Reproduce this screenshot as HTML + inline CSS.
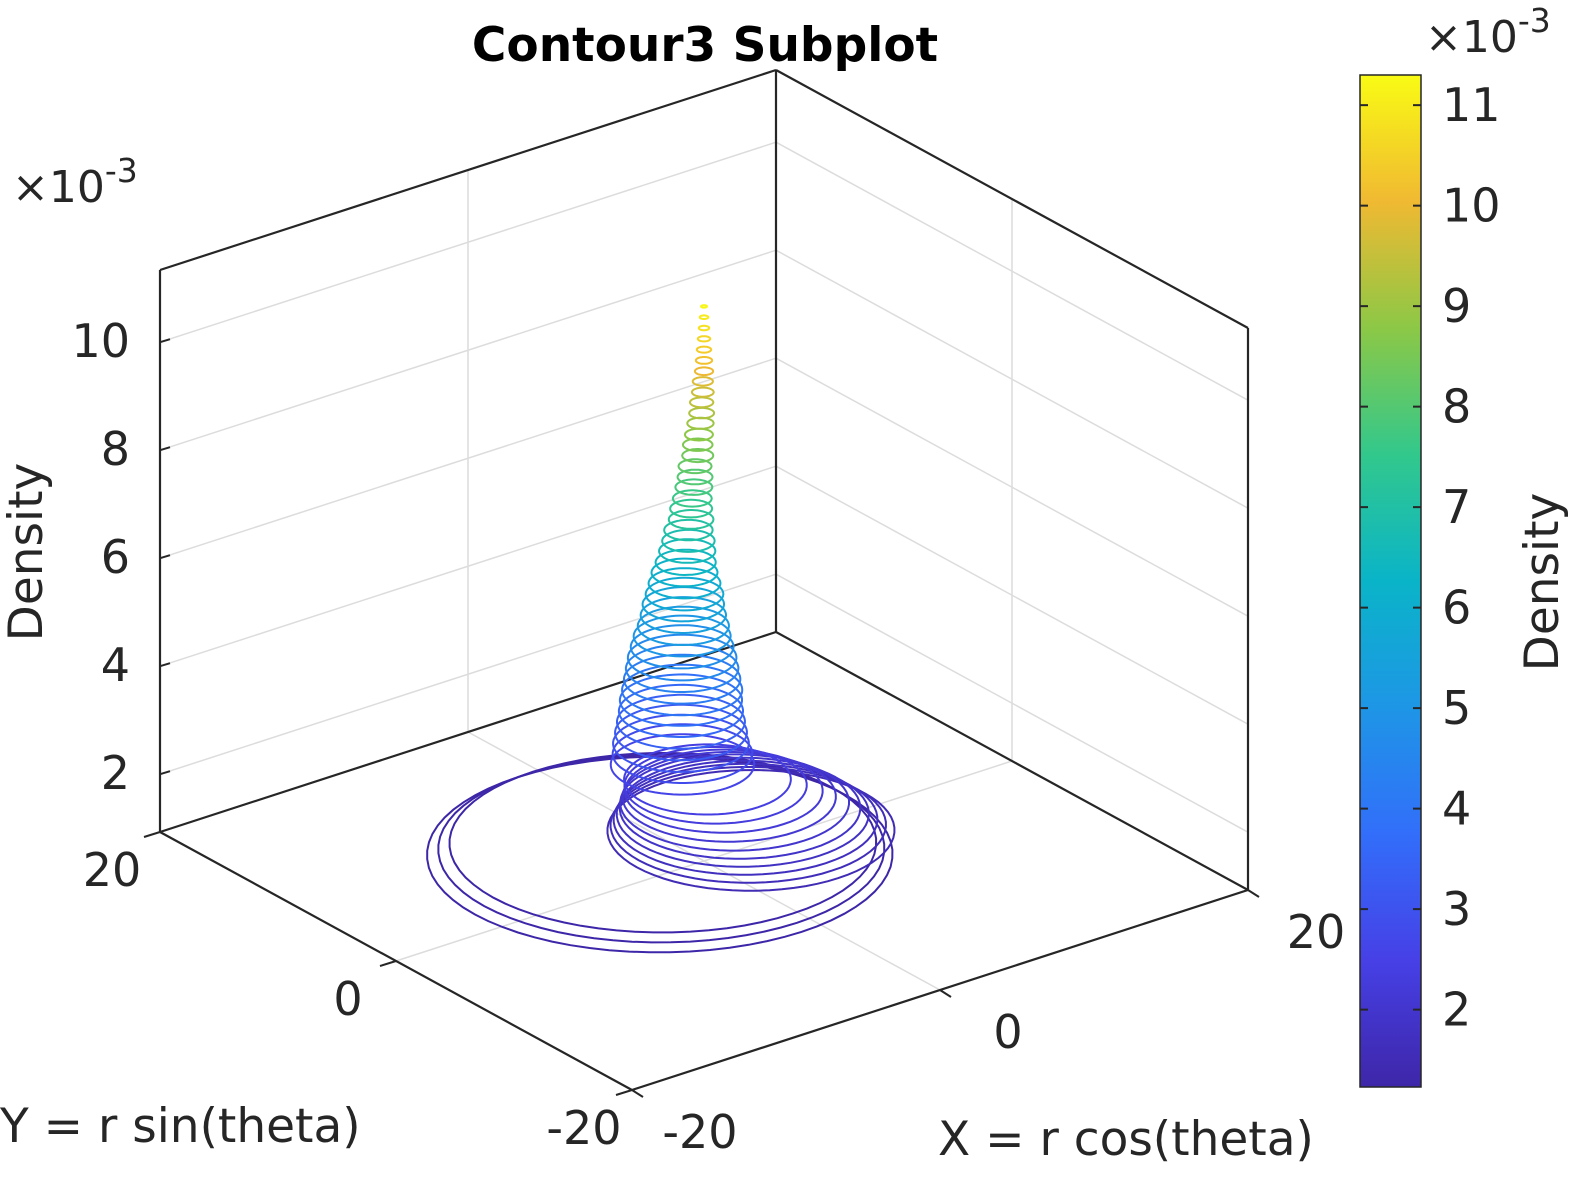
<!DOCTYPE html>
<html><head><meta charset="utf-8">
<style>
html,body{margin:0;padding:0;background:#fff;}
svg{display:block;font-family:"DejaVu Sans","Liberation Sans",sans-serif;}
</style></head>
<body>
<svg id="chart" width="1589" height="1180" viewBox="0 0 1589 1180" xmlns="http://www.w3.org/2000/svg">
<defs>
<linearGradient id="parula" x1="0" y1="1" x2="0" y2="0">
<stop offset="0" stop-color="rgb(62,38,168)"/>
<stop offset="0.125" stop-color="rgb(70,64,230)"/>
<stop offset="0.25" stop-color="rgb(50,110,250)"/>
<stop offset="0.375" stop-color="rgb(30,150,230)"/>
<stop offset="0.5" stop-color="rgb(10,180,200)"/>
<stop offset="0.625" stop-color="rgb(50,200,140)"/>
<stop offset="0.75" stop-color="rgb(140,200,70)"/>
<stop offset="0.875" stop-color="rgb(240,185,50)"/>
<stop offset="1" stop-color="rgb(249,251,20)"/>
</linearGradient>
</defs>
<g id="grid"></g>
<g id="box"></g>
<g id="contours"></g>
<g id="labels"></g>
<text x="705" y="61" font-size="47" font-weight="bold" text-anchor="middle" fill="#000">Contour3 Subplot</text>
<text x="12" y="202" font-size="44" fill="#262626">×10<tspan font-size="33" dy="-20">-3</tspan></text>
<text transform="translate(42,552) rotate(-90)" font-size="47" text-anchor="middle" fill="#262626">Density</text>
<text x="0" y="1142" font-size="47" fill="#262626">Y = r sin(theta)</text>
<text x="938" y="1155" font-size="47" fill="#262626">X = r cos(theta)</text>
<rect x="1360" y="75" width="61" height="1012" fill="url(#parula)" stroke="#262626" stroke-width="1.5"/>
<g id="cbticks"></g>
<text x="1425" y="52" font-size="44" fill="#262626">×10<tspan font-size="33" dy="-20">-3</tspan></text>
<text transform="translate(1558,582) rotate(-90)" font-size="47" text-anchor="middle" fill="#262626">Density</text>
</svg>
<script>
// ---- data ----
const zTicks = [2,4,6,8,10];
const xTicks = [-20,0,20];
const yTicks = [-20,0,20];
const cbTicks = [2,3,4,5,6,7,8,9,10,11];
// floor-level rings (outer spiral + shifted blob)
const floorLevels = [1.05,1.15,1.25,1.5,1.6,1.7,1.8,1.9,2.0,2.1,2.2,2.3,2.4];
const floorRadii  = [12.0,11.5,11.0,7.4,7.1,6.8,6.5,6.2,5.9,5.5,5.1,4.7,4.3];
const floorCX     = [-1.8,-1.7,-1.6,1.9,1.8,1.7,1.6,1.5,1.3,1.1,0.9,0.6,0.3];
const floorCY     = [1.4,1.4,1.4,-1.5,-1.4,-1.3,-1.2,-1.1,-0.9,-0.7,-0.5,-0.2,0.1];
// cone rings
const coneLevels = [2.6,2.8,3.0,3.2,3.4,3.6,3.8,4.0,4.2,4.4,4.6,4.8,5.0,5.2,5.4,5.6,5.8,6.0,6.2,6.4,6.6,6.8,7.0,7.2,7.4,7.6,7.8,8.0,8.2,8.4,8.6,8.8,9.0,9.2,9.4,9.6,9.8,10.0,10.2,10.4,10.6,10.8,11.0,11.2];
const coneRadii  = [3.7,3.6,3.5,3.4,3.3,3.2,3.15,3.1,3.0,2.9,2.8,2.65,2.5,2.35,2.2,2.1,2.0,1.85,1.7,1.55,1.45,1.35,1.25,1.15,1.08,1.0,0.95,0.9,0.85,0.8,0.76,0.72,0.68,0.64,0.6,0.56,0.52,0.47,0.42,0.37,0.32,0.27,0.22,0.15];
const coneCX = [-0.4,-0.4,-0.5,-0.5,-0.5,-0.5,-0.5,-0.5,-0.5,-0.5,-0.5,-0.5,-0.5,-0.5,-0.5,-0.5,-0.5,-0.5,-0.5,-0.5,-0.4,-0.4,-0.4,-0.3,-0.3,-0.3,-0.2,-0.2,-0.2,-0.1,-0.1,-0.1,0,0,0,0,0,0,0,0,0,0,0,0];
const coneCY = [1.3,1.3,1.3,1.3,1.3,1.3,1.3,1.2,1.2,1.2,1.2,1.2,1.2,1.1,1.1,1.1,1.0,1.0,1.0,0.9,0.9,0.8,0.8,0.7,0.7,0.6,0.6,0.5,0.5,0.4,0.4,0.3,0.3,0.2,0.2,0.1,0.1,0,0,0,0,0,0,0];
// ---- projection ----
const ZMIN=0.93, ZPX=54, CMIN=1.23, CMAX=11.3;
function P(X,Y,Z){return [704+15.4*X-11.8*Y, 861-5*X-6.45*Y-(Z-ZMIN)*ZPX];}
const NS="http://www.w3.org/2000/svg";
function line(g,a,b,stroke,w,name){
  const l=document.createElementNS(NS,'line');
  l.setAttribute('x1',a[0]);l.setAttribute('y1',a[1]);l.setAttribute('x2',b[0]);l.setAttribute('y2',b[1]);
  l.setAttribute('stroke',stroke);l.setAttribute('stroke-width',w);
  
  
  g.appendChild(l);
}
function txt(g,x,y,s,anchor,name){
  const t=document.createElementNS(NS,'text');
  t.setAttribute('x',x);t.setAttribute('y',y);t.setAttribute('font-size','46');
  t.setAttribute('fill','#262626');t.setAttribute('text-anchor',anchor);t.textContent=s;
  
  
  g.appendChild(t);
}
const ZTOP=ZMIN+(832-270)/ZPX;
const grid=document.getElementById('grid');
zTicks.forEach(z=>{
  line(grid,P(-20,20,z),P(20,20,z),'#dcdcdc',1.5,'z-grid-left');
  line(grid,P(20,20,z),P(20,-20,z),'#dcdcdc',1.5,'z-grid-right');
});
line(grid,P(0,20,ZMIN),P(0,20,ZTOP),'#dcdcdc',1.5,'x-grid-wall');
line(grid,P(20,0,ZMIN),P(20,0,ZTOP),'#dcdcdc',1.5,'y-grid-wall');
line(grid,P(0,-20,ZMIN),P(0,20,ZMIN),'#dcdcdc',1.5,'x-grid-floor');
line(grid,P(-20,0,ZMIN),P(20,0,ZMIN),'#dcdcdc',1.5,'y-grid-floor');
const box=document.getElementById('box');
const c='#262626';
line(box,P(-20,20,ZMIN),P(-20,20,ZTOP),c,2.2,'box-edge');
line(box,P(20,20,ZMIN),P(20,20,ZTOP),c,2.2,'box-edge');
line(box,P(20,-20,ZMIN),P(20,-20,ZTOP),c,2.2,'box-edge');
line(box,P(-20,20,ZTOP),P(20,20,ZTOP),c,2.2,'box-edge');
line(box,P(20,20,ZTOP),P(20,-20,ZTOP),c,2.2,'box-edge');
line(box,P(-20,20,ZMIN),P(20,20,ZMIN),c,2.2,'box-edge');
line(box,P(20,20,ZMIN),P(20,-20,ZMIN),c,2.2,'box-edge');
line(box,P(-20,20,ZMIN),P(-20,-20,ZMIN),c,2.2,'box-edge');
line(box,P(-20,-20,ZMIN),P(20,-20,ZMIN),c,2.2,'box-edge');
const lab=document.getElementById('labels');
zTicks.forEach(z=>{
  const a=P(-20,20,z);
  line(lab,a,[a[0]+10,a[1]-3],c,2,'z-tick');
  txt(lab,a[0]-30,a[1]+15,String(z),'end','z-tick-label');
});
yTicks.forEach(y=>{
  const a=P(-20,y,ZMIN);
  line(lab,a,[a[0]-16,a[1]+5],c,2,'y-tick');
  txt(lab,a[0]-48,a[1]+54,String(y),'middle','y-tick-label');
});
xTicks.forEach(x=>{
  const a=P(x,-20,ZMIN);
  line(lab,a,[a[0]+11,a[1]+7],c,2,'x-tick');
  txt(lab,a[0]+68,a[1]+58,String(x),'middle','x-tick-label');
});
// colormap
const stops=[[0,62,38,168],[0.125,70,64,230],[0.25,50,110,250],[0.375,30,150,230],[0.5,10,180,200],[0.625,50,200,140],[0.75,140,200,70],[0.875,240,185,50],[1,249,251,20]];
function cmap(z){
  let t=(z-CMIN)/(CMAX-CMIN);t=Math.max(0,Math.min(1,t));
  for(let i=1;i<stops.length;i++){if(t<=stops[i][0]){const a=stops[i-1],b=stops[i],f=(t-a[0])/(b[0]-a[0]);
    return 'rgb('+[1,2,3].map(k=>Math.round(a[k]+(b[k]-a[k])*f)).join(',')+')';}}
  return 'rgb(249,251,20)';
}
const cg=document.getElementById('contours');
function ring(z,r,cx,cy,name){
  let d='';
  for(let i=0;i<=72;i++){const t=i/72*2*Math.PI;const p=P(cx+r*Math.cos(t),cy+r*Math.sin(t),z);d+=(i?'L':'M')+p[0].toFixed(1)+','+p[1].toFixed(1);}
  const pa=document.createElementNS(NS,'path');
  pa.setAttribute('d',d);pa.setAttribute('fill','none');pa.setAttribute('stroke',cmap(z));pa.setAttribute('stroke-width','2');
  
  
  cg.appendChild(pa);
}
floorLevels.forEach((z,i)=>ring(z,floorRadii[i],floorCX[i],floorCY[i],'floor-contour'));
coneLevels.forEach((z,i)=>ring(z,coneRadii[i],coneCX[i],coneCY[i],'cone-contour'));
// colorbar ticks
const cb=document.getElementById('cbticks');
cbTicks.forEach(v=>{
  const y=1087-(v-CMIN)/(CMAX-CMIN)*1012;
  line(cb,[1360,y],[1368,y],c,2,'colorbar-tick');
  line(cb,[1413,y],[1421,y],c,2,'colorbar-tick');
  txt(cb,1442,y+16,String(v),'start','colorbar-tick-label');
});
</script>
</body></html>
